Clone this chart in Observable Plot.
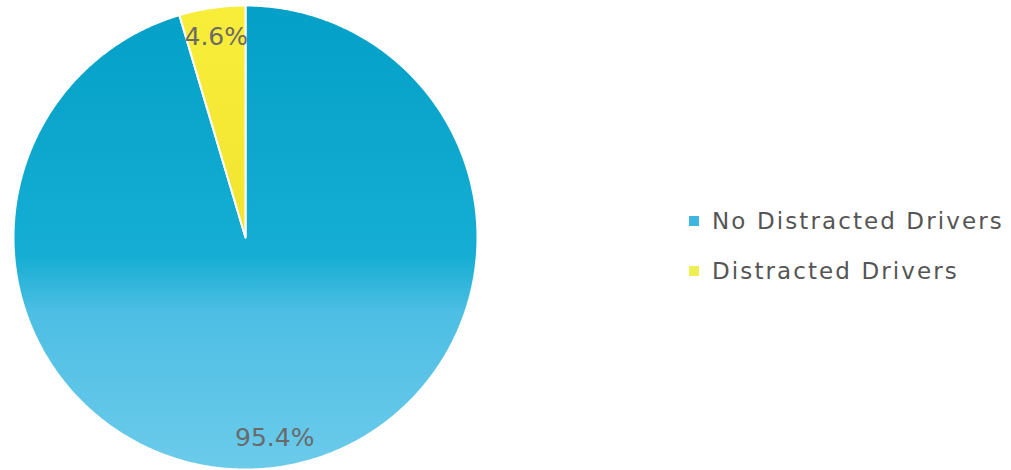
<!DOCTYPE html>
<html>
<head>
<meta charset="utf-8">
<script src="https://cdn.jsdelivr.net/npm/d3@7"></script>
<script src="https://cdn.jsdelivr.net/npm/@observablehq/plot@0.6"></script>
<style>
  html, body { margin: 0; padding: 0; background: #fff; }
  #wrap { position: relative; width: 1011px; height: 470px; overflow: hidden; }
  #chart { position: absolute; left: 0; top: 0; }
  #legend { position: absolute; left: 689px; top: 196px; font-family: "DejaVu Sans", sans-serif; font-size: 23px; letter-spacing: 2.1px; color: #555; }
  .row { display: flex; align-items: center; height: 50px; white-space: nowrap; }
  .sw { width: 10px; height: 10px; margin-right: 13px; }
</style>
</head>
<body>
<div id="wrap">
  <div id="chart"></div>
  <div id="legend"></div>
</div>
<script>
// ---- data ----
const categories = ["No Distracted Drivers", "Distracted Drivers"];
const values = [95.4, 4.6];
const labels = ["95.4%", "4.6%"];

// ---- styles ----
const sliceFills = ["url(#gradBlue)", "url(#gradYellow)"];
const legendColors = ["#3db7e0", "#eeee55"];

// build slice outlines in unit-circle data space
const arcs = d3.pie().sort(null).value(d => d)(values);
const outline = [];
const labelPts = [];
arcs.forEach((p, i) => {
  const cat = categories[i];
  const n = Math.max(4, Math.ceil((p.endAngle - p.startAngle) / (2 * Math.PI) * 720));
  outline.push({cat, x: 0, y: 0});
  for (let k = 0; k <= n; k++) {
    const a = p.startAngle + (p.endAngle - p.startAngle) * k / n;
    outline.push({cat, x: Math.sin(a), y: Math.cos(a)});
  }
  outline.push({cat, x: 0, y: 0});
  const m = (p.startAngle + p.endAngle) / 2;
  labelPts.push({label: labels[i], x: 0.875 * Math.sin(m), y: 0.875 * Math.cos(m)});
});

const plot = Plot.plot({
  width: 1011,
  height: 470,
  margin: 0,
  x: {domain: [-1, 1], range: [13, 477], axis: null},
  y: {domain: [-1, 1], range: [469, 5], axis: null},
  color: {domain: categories, range: sliceFills},
  marks: [
    Plot.line(outline, {x: "x", y: "y", z: "cat", fill: "cat", stroke: "white", strokeWidth: 2, strokeLinejoin: "miter"}),
    Plot.text(labelPts, {x: "x", y: "y", text: "label", fontSize: 25, fill: "#6a6a6a", fontFamily: "DejaVu Sans, sans-serif"})
  ]
});

// gradient definitions
const ns = "http://www.w3.org/2000/svg";
const defs = document.createElementNS(ns, "defs");
function grad(id, stops) {
  const g = document.createElementNS(ns, "linearGradient");
  g.setAttribute("id", id);
  g.setAttribute("x1", "0"); g.setAttribute("y1", "0");
  g.setAttribute("x2", "0"); g.setAttribute("y2", "1");
  stops.forEach(([o, c]) => {
    const s = document.createElementNS(ns, "stop");
    s.setAttribute("offset", o);
    s.setAttribute("stop-color", c);
    g.appendChild(s);
  });
  defs.appendChild(g);
}
grad("gradBlue", [["0", "#04a0c7"], ["0.54", "#15add3"], ["0.66", "#4dbee4"], ["1", "#6ccbeb"]]);
grad("gradYellow", [["0", "#f8ee3a"], ["1", "#f2e430"]]);
plot.insertBefore(defs, plot.firstChild);
document.getElementById("chart").appendChild(plot);

// legend
const legend = d3.select("#legend");
categories.forEach((c, i) => {
  const row = legend.append("div").attr("class", "row");
  row.append("div").attr("class", "sw").style("background", legendColors[i]);
  row.append("span").text(c);
});
</script>
</body>
</html>
